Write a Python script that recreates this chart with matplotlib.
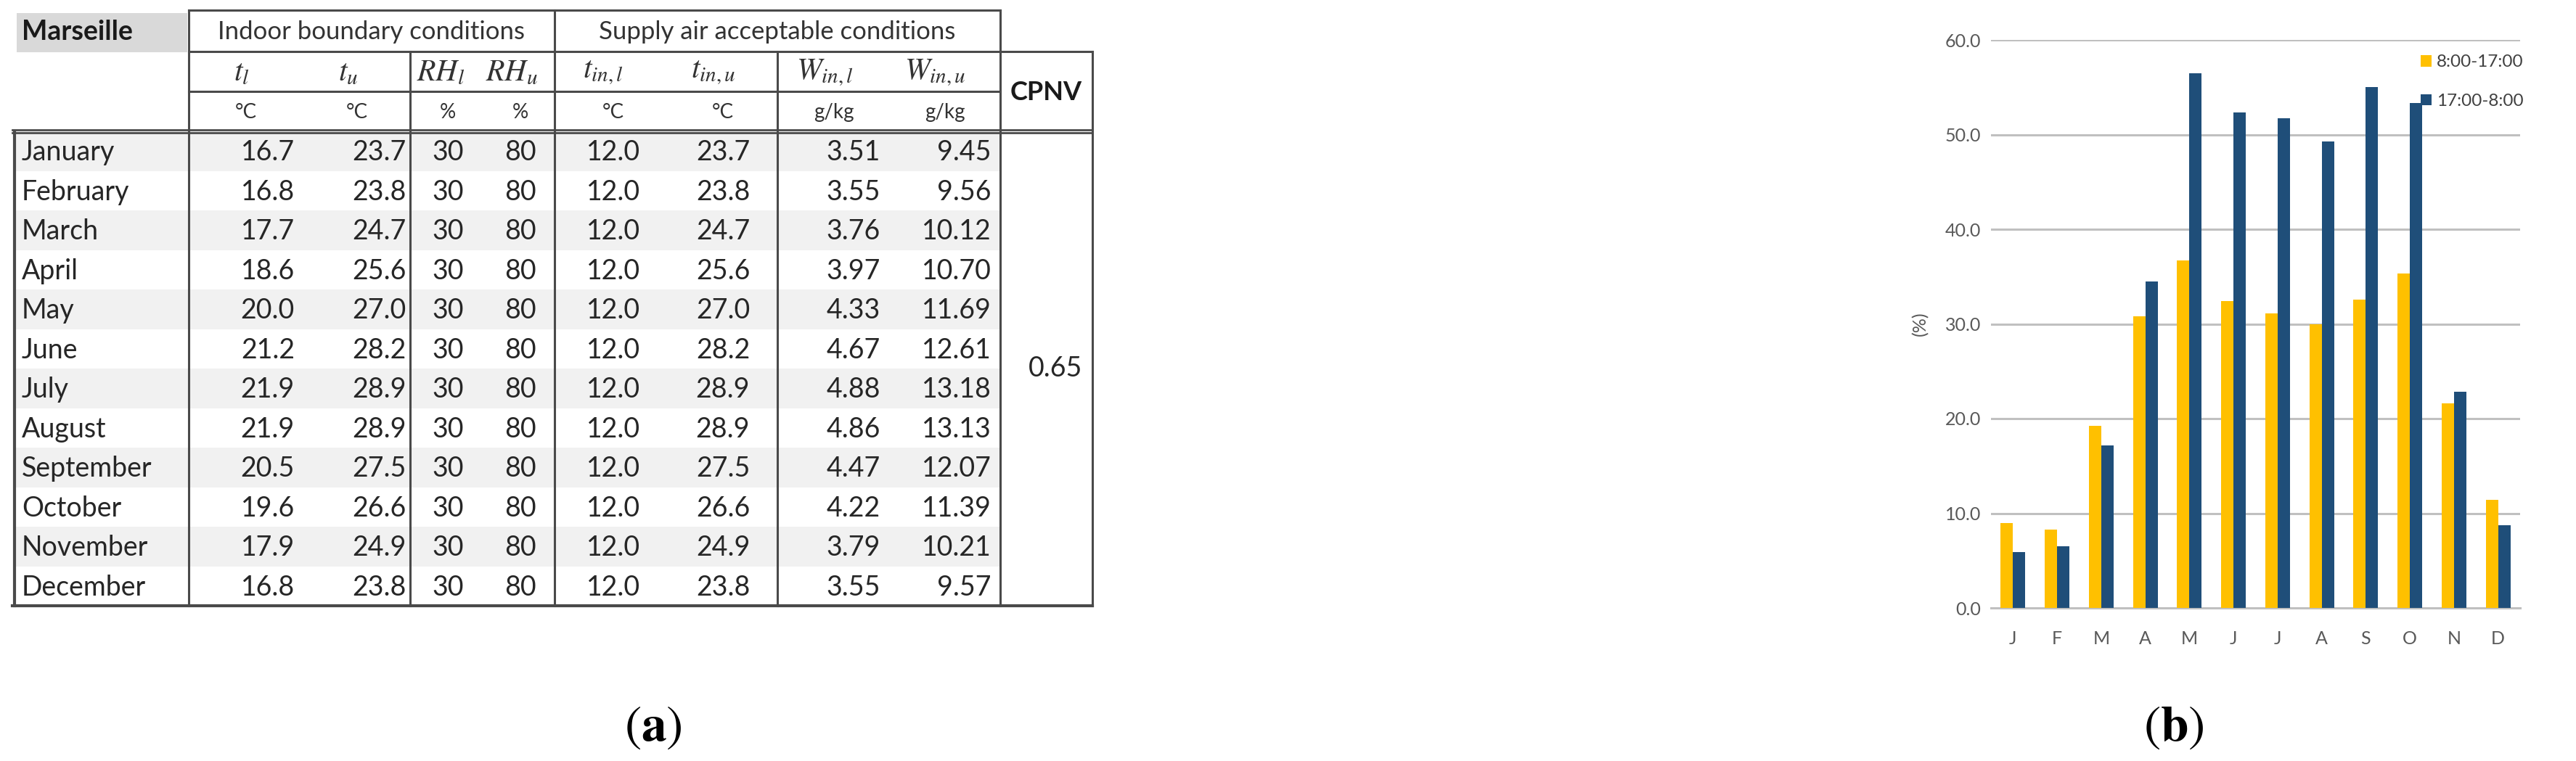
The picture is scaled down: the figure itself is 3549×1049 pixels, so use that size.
import matplotlib
matplotlib.use("Agg")
import matplotlib.pyplot as plt
from matplotlib.patches import Rectangle

plt.rcParams['font.family'] = ['Lato', 'DejaVu Sans']
plt.rcParams['mathtext.fontset'] = 'stix'

# table data (a)
months = ['January', 'February', 'March', 'April', 'May', 'June', 'July',
          'August', 'September', 'October', 'November', 'December']
t_l = [16.7, 16.8, 17.7, 18.6, 20.0, 21.2, 21.9, 21.9, 20.5, 19.6, 17.9, 16.8]
t_u = [23.7, 23.8, 24.7, 25.6, 27.0, 28.2, 28.9, 28.9, 27.5, 26.6, 24.9, 23.8]
rh_l = [30, 30, 30, 30, 30, 30, 30, 30, 30, 30, 30, 30]
rh_u = [80, 80, 80, 80, 80, 80, 80, 80, 80, 80, 80, 80]
t_in_l = [12.0, 12.0, 12.0, 12.0, 12.0, 12.0, 12.0, 12.0, 12.0, 12.0, 12.0, 12.0]
t_in_u = [23.7, 23.8, 24.7, 25.6, 27.0, 28.2, 28.9, 28.9, 27.5, 26.6, 24.9, 23.8]
w_in_l = [3.51, 3.55, 3.76, 3.97, 4.33, 4.67, 4.88, 4.86, 4.47, 4.22, 3.79, 3.55]
w_in_u = [9.45, 9.56, 10.12, 10.70, 11.69, 12.61, 13.18, 13.13, 12.07, 11.39, 10.21, 9.57]
cpnv = 0.65
symbols = [r'$t_l$', r'$t_u$', r'$RH_l$', r'$RH_u$',
           r'$t_{in,l}$', r'$t_{in,u}$', r'$W_{in,l}$', r'$W_{in,u}$']
units = ['°C', '°C', '%', '%', '°C', '°C', 'g/kg', 'g/kg']

# chart data (b)
month_letters = ['J', 'F', 'M', 'A', 'M', 'J', 'J', 'A', 'S', 'O', 'N', 'D']
day = [9.0, 8.3, 19.2, 30.8, 36.7, 32.4, 31.1, 30.0, 32.6, 35.3, 21.6, 11.4]
night = [5.9, 6.5, 17.2, 34.5, 56.5, 52.3, 51.7, 49.3, 55.0, 53.3, 22.8, 8.7]
series_names = ['8:00-17:00', '17:00-8:00']

W, H = 3549, 1049
fig = plt.figure(figsize=(W / 100, H / 100), dpi=100)

# ---- table drawn in pixel coordinates ----
ax = fig.add_axes([0, 0, 1, 1])
ax.set_xlim(0, W)
ax.set_ylim(H, 0)
ax.axis('off')

txt = '#262626'
line_c = '#4a4a4a'
xl, xm, xt, xr, xti, xw, xc = 20, 260, 565, 764, 1071, 1378, 1505
y_top, y1, y2, y3, y_bot = 14, 71, 126, 181, 835
row_h = (y_bot - y3) / len(months)

# shading and Marseille box
ax.add_patch(Rectangle((23, 18), 235, 54, color='#d9d9d9', lw=0))
for i in range(len(months)):
    if i % 2 == 0:
        ax.add_patch(Rectangle((xl, y3 + i * row_h), xw - xl, row_h,
                               color='#f1f1f1', lw=0))

lw = 2.2
ax.plot([xm, xw], [y_top, y_top], color=line_c, lw=lw)
ax.plot([xm, xc], [y1, y1], color=line_c, lw=lw)
ax.plot([xm, xw], [y2, y2], color=line_c, lw=lw)
ax.plot([xl - 3, xc], [y3 - 2, y3 - 2], color=line_c, lw=2.0)
ax.plot([xl - 3, xc], [y3 + 2, y3 + 2], color=line_c, lw=2.0)
ax.plot([xl - 3, xc], [y_bot, y_bot], color=line_c, lw=3)
ax.plot([xl, xl], [y3, y_bot], color=line_c, lw=3)
for xx, y0 in [(xm, y_top), (xt, y1), (xr, y_top), (xti, y1), (xw, y_top), (xc, y1)]:
    ax.plot([xx, xx], [y0, y_bot], color=line_c, lw=lw)

ax.text(30, 44, 'Marseille', fontsize=27, fontweight='bold', color='#1a1a1a',
        ha='left', va='center')
ax.text((xm + xr) / 2, 44, 'Indoor boundary conditions', fontsize=25,
        color='#333333', ha='center', va='center')
ax.text((xr + xw) / 2, 44, 'Supply air acceptable conditions',
        fontsize=25, color='#333333', ha='center', va='center')
ax.text((xw + xc) / 2, 128, 'CPNV', fontsize=26, fontweight='bold',
        color='#1a1a1a', ha='center', va='center')

sym_x = [333, 480, 607, 705, 831, 983, 1136, 1288]
unit_x = [339, 492, 617, 717, 845, 996, 1149, 1302]
for s, u, sx, ux in zip(symbols, units, sym_x, unit_x):
    ax.text(sx, 100, s, fontsize=30, color='#333333', ha='center', va='center')
    ax.text(ux, 155, u, fontsize=20, color='#333333', ha='center', va='center')

for i, m in enumerate(months):
    yy = y3 + (i + 0.5) * row_h + 2
    ax.text(30, yy, m, fontsize=27, color=txt, ha='left', va='center')
    ax.text(406, yy, f'{t_l[i]:.1f}', fontsize=27, color=txt, ha='right', va='center')
    ax.text(560, yy, f'{t_u[i]:.1f}', fontsize=27, color=txt, ha='right', va='center')
    ax.text(617, yy, f'{rh_l[i]}', fontsize=27, color=txt, ha='center', va='center')
    ax.text(717, yy, f'{rh_u[i]}', fontsize=27, color=txt, ha='center', va='center')
    ax.text(845, yy, f'{t_in_l[i]:.1f}', fontsize=27, color=txt, ha='center', va='center')
    ax.text(996, yy, f'{t_in_u[i]:.1f}', fontsize=27, color=txt, ha='center', va='center')
    ax.text(1213, yy, f'{w_in_l[i]:.2f}', fontsize=27, color=txt, ha='right', va='center')
    ax.text(1366, yy, f'{w_in_u[i]:.2f}', fontsize=27, color=txt, ha='right', va='center')
ax.text(1454, (y3 + y_bot) / 2, f'{cpnv:.2f}', fontsize=27, color=txt,
        ha='center', va='center')

ax.text(900, 1003, r'$(\mathbf{a})$', fontsize=50, ha='center', va='center')
ax.text(2995, 1003, r'$(\mathbf{b})$', fontsize=50, ha='center', va='center')

# ---- bar chart ----
left, right, bottom, top = 2743, 3472, 838, 55
bx = fig.add_axes([left / W, (H - bottom) / H, (right - left) / W, (bottom - top) / H])
x = list(range(len(month_letters)))
bw = 0.28
bx.bar([i - bw / 2 for i in x], day, width=bw, color='#FFC000', label=series_names[0], zorder=3)
bx.bar([i + bw / 2 for i in x], night, width=bw, color='#1F4E79', label=series_names[1], zorder=3)
bx.set_xlim(-0.5, 11.5)
bx.set_ylim(0, 60)
bx.set_yticks([0, 10, 20, 30, 40, 50, 60])
bx.set_yticklabels([f'{v:.1f}' for v in [0, 10, 20, 30, 40, 50, 60]])
bx.set_xticks(x)
bx.set_xticklabels(month_letters)
bx.tick_params(axis='y', length=0, labelsize=18, labelcolor='#595959', pad=10)
bx.tick_params(axis='x', length=0, labelsize=18, labelcolor='#595959', pad=22)
bx.yaxis.grid(True, color='#c0c0c0', lw=2.2, zorder=0)
for s in ['left', 'right', 'top']:
    bx.spines[s].set_visible(False)
bx.spines['bottom'].set_color('#c0c0c0')
bx.spines['bottom'].set_linewidth(2.2)
bx.set_ylabel('(%)', fontsize=18, color='#595959', labelpad=16)
bx.legend(loc='upper left', bbox_to_anchor=(0.812, 0.974), borderaxespad=0,
          borderpad=0, frameon=False, fontsize=17.5, handlelength=0.6,
          handleheight=0.6, handletextpad=0.3, labelspacing=1.35,
          labelcolor='#404040')

fig.savefig('out.png', dpi=100)
